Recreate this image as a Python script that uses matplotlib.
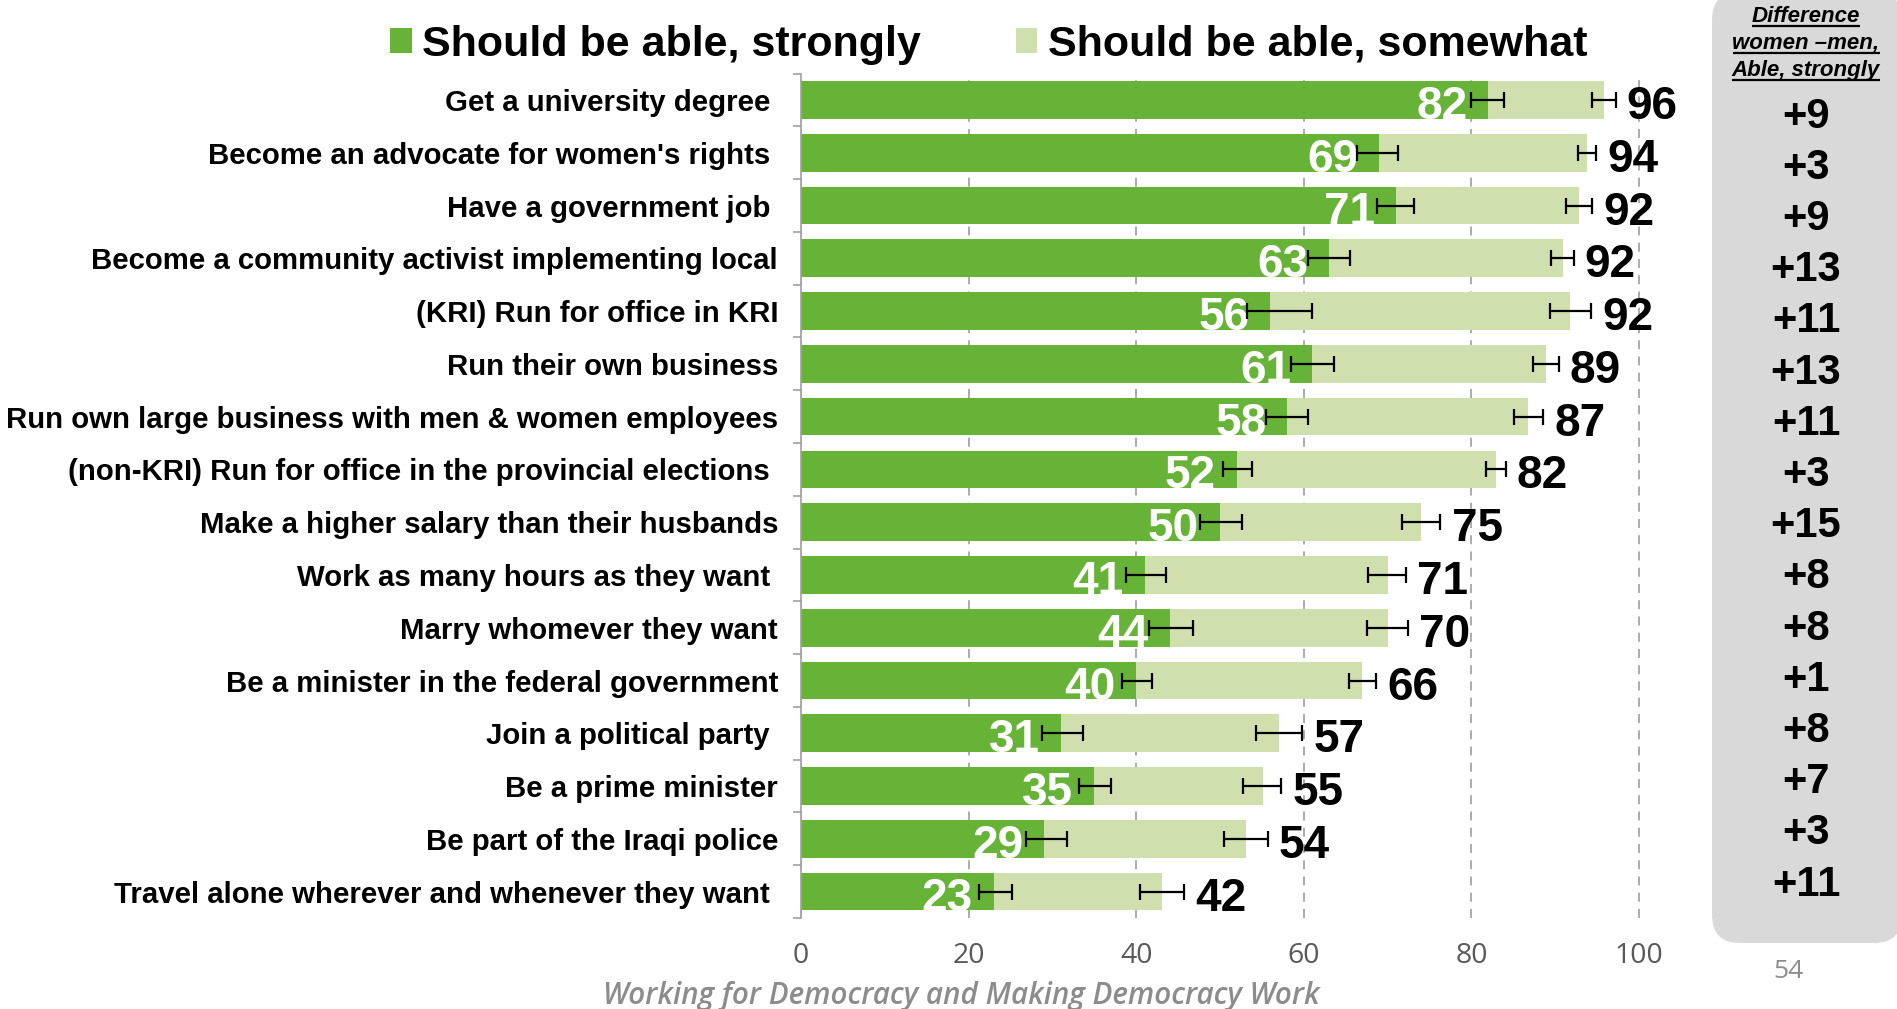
import matplotlib
matplotlib.use("Agg")
import matplotlib.pyplot as plt
from matplotlib.patches import FancyBboxPatch, Patch
import numpy as np

# ---------------- data ----------------
categories = [
    "Get a university degree ",
    "Become an advocate for women's rights ",
    "Have a government job ",
    "Become a community activist implementing local",
    "(KRI) Run for office in KRI",
    "Run their own business",
    "Run own large business with men & women employees",
    "(non-KRI) Run for office in the provincial elections ",
    "Make a higher salary than their husbands",
    "Work as many hours as they want ",
    "Marry whomever they want",
    "Be a minister in the federal government",
    "Join a political party ",
    "Be a prime minister",
    "Be part of the Iraqi police",
    "Travel alone wherever and whenever they want ",
]
strong = [82, 69, 71, 63, 56, 61, 58, 52, 50, 41, 44, 40, 31, 35, 29, 23]
total = [95.8, 93.8, 92.8, 90.9, 91.8, 88.9, 86.8, 82.9, 74.0, 70.0, 70.0, 67.0, 57.1, 55.1, 53.1, 43.1]
total_labels = [96, 94, 92, 92, 92, 89, 87, 82, 75, 71, 70, 66, 57, 55, 54, 42]
strong_lo = [79.9, 66.4, 68.7, 60.5, 53.2, 58.5, 55.5, 50.4, 47.6, 38.8, 41.5, 38.3, 28.8, 33.2, 26.8, 21.2]
strong_hi = [83.9, 71.3, 73.2, 65.5, 61.0, 63.6, 60.5, 53.8, 52.6, 43.5, 46.8, 41.9, 33.6, 37.0, 31.7, 25.2]
total_lo = [94.4, 92.7, 91.3, 89.5, 89.4, 87.4, 85.1, 81.7, 71.7, 67.7, 67.6, 65.4, 54.3, 52.8, 50.5, 40.5]
total_hi = [97.2, 94.9, 94.4, 92.2, 94.3, 90.4, 88.6, 84.1, 76.3, 72.2, 72.4, 68.6, 59.8, 57.3, 55.7, 45.7]
diff_labels = ["+9", "+3", "+9", "+13", "+11", "+13", "+11", "+3",
               "+15", "+8", "+8", "+1", "+8", "+7", "+3", "+11"]
x_ticks = [0, 20, 40, 60, 80, 100]
legend_labels = ["Should be able, strongly", "Should be able, somewhat"]
diff_header = ["Difference", "women \u2013men,", "Able, strongly"]
footer_text = "Working for Democracy and Making Democracy Work"
page_number = "54"

# ---------------- style ----------------
DARK = "#67b337"
LIGHT = "#cfdfae"
BOLD = "Liberation Sans"
W, H = 1897, 1009

fig = plt.figure(figsize=(W / 100, H / 100), dpi=100)
fig.patch.set_facecolor("white")

bg = fig.add_axes([0, 0, 1, 1], zorder=0)
bg.set_xlim(0, W)
bg.set_ylim(H, 0)
bg.axis("off")

ax_l, ax_r, ax_t, ax_b = 801, 801 + 838 * 1.005, 73.6, 918
ax = fig.add_axes([ax_l / W, 1 - ax_b / H, (ax_r - ax_l) / W, (ax_b - ax_t) / H], zorder=1)
ax.patch.set_alpha(0)

n = len(categories)
y = np.arange(n)
strong_a = np.array(strong, float)
total_a = np.array(total, float)

ax.barh(y, strong_a, height=0.714, color=DARK, zorder=2)
ax.barh(y, total_a - strong_a, left=strong_a, height=0.714, color=LIGHT, zorder=2)

ax.errorbar(strong_a, y, xerr=[strong_a - np.array(strong_lo), np.array(strong_hi) - strong_a],
            fmt="none", ecolor="black", elinewidth=1.6, capsize=6, capthick=1.6, zorder=4)
ax.errorbar(total_a, y, xerr=[total_a - np.array(total_lo), np.array(total_hi) - total_a],
            fmt="none", ecolor="black", elinewidth=1.6, capsize=6, capthick=1.6, zorder=4)

for yi, s in zip(y, strong):
    ax.annotate(str(s), xy=(s, yi), xytext=(-15, -1.5), textcoords="offset points",
                ha="right", va="center_baseline", color="white", fontsize=33,
                fontweight="bold", family=BOLD, zorder=3)
for yi, t, hi, lab in zip(y, total, total_hi, total_labels):
    ax.annotate(str(lab), xy=(max(t, hi), yi), xytext=(8, -1.5), textcoords="offset points",
                ha="left", va="center_baseline", color="black", fontsize=33,
                fontweight="bold", family=BOLD, zorder=3, annotation_clip=False)

ax.set_xlim(0, 100.5)
ax.set_ylim(n - 0.5, -0.5)
ax.set_xticks(x_ticks)
ax.set_xticklabels([str(v) for v in x_ticks], fontsize=20.5, color="#595959", family="Open Sans")
ax.set_yticks(y)
ax.set_yticklabels(categories, fontsize=21.2, fontweight="bold", family=BOLD, color="black")
ax.set_yticks(np.arange(-0.5, n, 1), minor=True)
ax.tick_params(axis="y", which="major", length=0, pad=16.5)
ax.tick_params(axis="y", which="minor", length=5.8, width=1.2, color="#a0a0a0", direction="out")
ax.tick_params(axis="x", length=0, pad=17.5)
for sp in ["top", "right", "bottom"]:
    ax.spines[sp].set_visible(False)
ax.spines["left"].set_color("#a0a0a0")
ax.spines["left"].set_linewidth(1.2)
ax.xaxis.grid(True, linestyle=(0, (5, 4)), color="#a6a6a6", linewidth=1.3, zorder=1)
ax.set_axisbelow(True)

# legend
handles = [Patch(facecolor=DARK), Patch(facecolor=LIGHT)]
fig.legend(handles, legend_labels, ncol=2, loc="center left",
           bbox_to_anchor=(390 / W, 1 - 45 / H), frameon=False,
           prop={"family": BOLD, "weight": "bold", "size": 31},
           handlelength=0.5, handleheight=0.5, handletextpad=0.25,
           columnspacing=2.2, borderpad=0, borderaxespad=0)

# right-hand difference panel
box = FancyBboxPatch((1712, -8), 190, 951, boxstyle="round,pad=0,rounding_size=28",
                     facecolor="#d9d9d9", edgecolor="none", zorder=1)
bg.add_patch(box)
header_texts = []
for i, line in enumerate(diff_header):
    base = 22 + 27 * i
    t = bg.text(1806, base, line, ha="center", va="baseline", fontsize=16,
                fontweight="bold", style="italic", family=BOLD, color="black", zorder=2)
    header_texts.append((t, base))
for yi, d in zip(np.linspace(112, 880, n), diff_labels):
    bg.text(1806, yi, d, ha="center", va="center_baseline", fontsize=30,
            fontweight="bold", family=BOLD, color="black", zorder=2)

bg.text(1788, 971, page_number, ha="center", va="center", fontsize=19,
        color="#8c8c8c", family="Open Sans")
bg.text(961, 996, footer_text, ha="center", va="center", fontsize=21.3,
        color="#8c8c8c", family="Open Sans", style="italic", fontweight="semibold")

fig.canvas.draw()
renderer = fig.canvas.get_renderer()
for t, base in header_texts:
    bb = t.get_window_extent(renderer)
    bg.plot([bb.x0, bb.x1], [base + 4, base + 4], color="black", lw=1.6, zorder=2,
            solid_capstyle="butt")

fig.savefig("out.png", dpi=100, facecolor="white")
